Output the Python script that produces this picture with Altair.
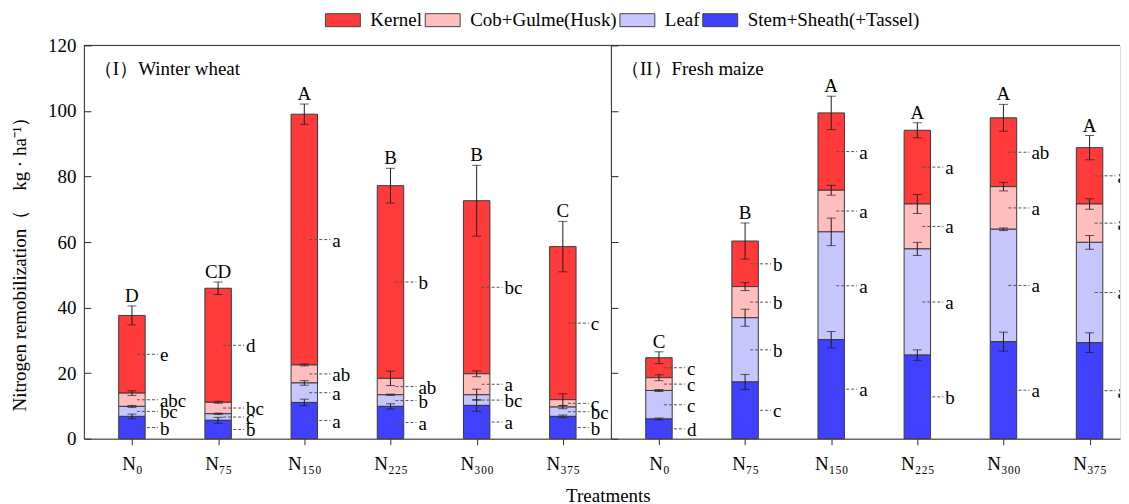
import json
import altair as alt
import pandas as pd

FONT = "Liberation Serif"

# ---------------- data ----------------
treatments = ["N₀", "N₇₅", "N₁₅₀", "N₂₂₅", "N₃₀₀", "N₃₇₅"]
parts = ["Kernel", "Cob+Gulme(Husk)", "Leaf", "Stem+Sheath(+Tassel)"]
part_colors = ["#FF3A3A", "#FFBEBE", "#C6C6FD", "#4040FF"]
stack_rank = [3, 2, 1, 0]          # Stem at the bottom, Kernel on top
panel_titles = ["（I）Winter wheat", "（II）Fresh maize"]
y_ticks = [0, 20, 40, 60, 80, 100, 120]

# (I) Winter wheat
wheat_stem = [6.8, 5.6, 11.05, 9.85, 10.15, 6.8]
wheat_leaf = [3.05, 2.0, 5.95, 3.55, 3.25, 2.85]
wheat_husk = [4.05, 3.5, 5.5, 5.0, 6.4, 2.25]
wheat_kernel = [23.7, 34.8, 76.5, 58.8, 52.8, 46.7]
wheat_stem_err = [0.7, 0.9, 1.0, 0.8, 1.8, 0.4]
wheat_leaf_err = [0.3, 0.2, 0.7, 0.2, 1.7, 0.5]
wheat_husk_err = [0.7, 0.3, 0.3, 2.2, 0.9, 1.8]
wheat_kernel_err = [2.9, 1.9, 3.1, 5.3, 10.8, 7.7]
wheat_stem_sig = ["b", "b", "a", "a", "a", "b"]
wheat_leaf_sig = ["bc", "c", "a", "b", "bc", "bc"]
wheat_husk_sig = ["abc", "bc", "ab", "ab", "a", "c"]
wheat_kernel_sig = ["e", "d", "a", "b", "bc", "c"]
wheat_total_sig = ["D", "CD", "A", "B", "B", "C"]

# (II) Fresh maize
maize_stem = [6.0, 17.3, 30.2, 25.5, 29.6, 29.3]
maize_leaf = [8.7, 19.6, 32.9, 32.4, 34.3, 30.6]
maize_husk = [3.9, 9.5, 12.7, 13.7, 13.0, 11.7]
maize_kernel = [6.1, 13.9, 23.6, 22.5, 21.0, 17.2]
maize_stem_err = [0.3, 2.3, 2.5, 1.6, 2.9, 3.0]
maize_leaf_err = [0.3, 2.6, 4.2, 2.0, 0.4, 2.1]
maize_husk_err = [0.9, 1.2, 1.5, 2.9, 1.3, 1.6]
maize_kernel_err = [1.8, 5.5, 5.1, 2.3, 4.1, 3.7]
maize_stem_sig = ["d", "c", "a", "b", "a", "a"]
maize_leaf_sig = ["c", "b", "a", "a", "a", "a"]
maize_husk_sig = ["c", "b", "a", "a", "a", "a"]
maize_kernel_sig = ["c", "b", "a", "a", "ab", "a"]
maize_total_sig = ["C", "B", "A", "A", "A", "A"]


def build_df(kernel, husk, leaf, stem, kerr, herr, lerr, serr, ksig, hsig, lsig, ssig, tsig):
    rows = []
    series = [
        (kernel, kerr, ksig),
        (husk, herr, hsig),
        (leaf, lerr, lsig),
        (stem, serr, ssig),
    ]
    for i, t in enumerate(treatments):
        for j, p in enumerate(parts):
            vals, errs, sigs = series[j]
            rows.append(dict(idx=i, treat=t, part=p, rank=stack_rank[j], value=vals[i],
                             err=errs[i], sig=sigs[i], tsig=tsig[i]))
    return pd.DataFrame(rows)


wheat_df = build_df(wheat_kernel, wheat_husk, wheat_leaf, wheat_stem,
                    wheat_kernel_err, wheat_husk_err, wheat_leaf_err, wheat_stem_err,
                    wheat_kernel_sig, wheat_husk_sig, wheat_leaf_sig, wheat_stem_sig,
                    wheat_total_sig)
maize_df = build_df(maize_kernel, maize_husk, maize_leaf, maize_stem,
                    maize_kernel_err, maize_husk_err, maize_leaf_err, maize_stem_err,
                    maize_kernel_sig, maize_husk_sig, maize_leaf_sig, maize_stem_sig,
                    maize_total_sig)

# ---------------- chart ----------------
H = 394
STEP = 88.0
W_LEFT = 528
W_RIGHT = 510          # the reference's right panel runs past the picture's edge
INK = "#2b2b2b"
BAR_W = 26.5

y_scale = alt.Scale(domain=[0, 120], nice=False, zero=True)
label_expr = json.dumps(treatments, ensure_ascii=False) + "[datum.value]"

legend = alt.Legend(
    orient="none", direction="horizontal", title=None,
    legendX=250, legendY=-35, padding=0,
    symbolType="M-2.69,-1H2.69V1H-2.69Z", symbolSize=169,
    symbolStrokeColor="#444444", symbolStrokeWidth=1, symbolOpacity=1,
    labelFont=FONT, labelFontSize=19, labelColor="black", labelLimit=0,
    labelOffset=18, columnPadding=1,
)


def panel(df, title, width, left):
    x_axis = alt.Axis(
        title="Treatments" if left else None,
        titleFont=FONT, titleFontSize=19, titleFontWeight="normal", titleColor="black",
        titleX=525, titleY=63, titleBaseline="alphabetic", titleAlign="center",
        values=list(range(len(treatments))), labelExpr=label_expr,
        labelFont=FONT, labelFontSize=19, labelColor="black", labelAngle=0,
        labelPadding=10, tickSize=6, tickColor=INK, domainColor=INK, grid=False,
    )
    if left:
        y_axis = alt.Axis(
            values=y_ticks, title="Nitrogen remobilization（　kg · ha⁻¹）",
            titleFont=FONT, titleFontSize=19, titleFontWeight="normal", titleColor="black",
            titleX=-54, titleY=214,
            labelFont=FONT, labelFontSize=19, labelColor="black", labelPadding=15,
            tickSize={"expr": "-7"}, tickColor=INK, domainColor=INK, grid=False,
        )
    else:
        y_axis = alt.Axis(
            values=y_ticks, title=None, labels=False,
            tickSize={"expr": "-7"}, tickColor=INK, domainColor=INK, grid=False,
        )

    x_max = -0.5 + width / STEP
    x_scale = alt.Scale(domain=[-0.5, x_max], nice=False, zero=False)

    def X(field="idx"):
        return alt.X(field, type="quantitative", scale=x_scale, axis=x_axis)

    def Y(field):
        return alt.Y(field, type="quantitative", scale=y_scale, axis=y_axis)

    base = (
        alt.Chart(df)
        .transform_stack(stack="value", as_=["y0", "y1"], groupby=["treat"],
                         sort=[alt.SortField("rank", order="ascending")])
        .transform_calculate(
            mid="(datum.y0 + datum.y1) / 2",
            lo="datum.y1 - datum.err",
            hi="datum.y1 + datum.err",
        )
    )

    bars = base.mark_bar(stroke="#3a3a3a", strokeWidth=1, width=BAR_W).encode(
        x=X(), y=Y("y1"), y2="y0:Q",
        color=alt.Color("part:N", scale=alt.Scale(domain=parts, range=part_colors), legend=legend),
    )
    err_line = base.mark_rule(color="#1e1e1e", strokeWidth=1).encode(x=X(), y=Y("lo"), y2="hi:Q")
    cap_lo = base.mark_tick(color="#1e1e1e", thickness=1, size=9, orient="horizontal").encode(
        x=X(), y=Y("lo"))
    cap_hi = base.mark_tick(color="#1e1e1e", thickness=1, size=9, orient="horizontal").encode(
        x=X(), y=Y("hi"))
    leaders = base.mark_rule(color="#555555", strokeWidth=1, strokeDash=[3, 2],
                             xOffset=5, x2Offset=26, clip=not left).encode(
        x=X(), x2=alt.X2("idx"), y=Y("mid"))
    seg_txt = base.mark_text(align="left", baseline="middle", dx=28, dy=1, font=FONT,
                             fontSize=19, color="black", clip=not left).encode(
        x=X(), y=Y("mid"), text="sig:N")
    top_txt = base.transform_filter("datum.part == 'Kernel'").mark_text(
        baseline="alphabetic", dy=-4, font=FONT, fontSize=19, color="black").encode(
        x=X(), y=Y("hi"), text="tsig:N")
    ptitle = alt.Chart(pd.DataFrame({"t": [title]})).mark_text(
        align="left", baseline="alphabetic", font=FONT, fontSize=19, color="black").encode(
        x=alt.value(10), y=alt.value(30), text="t:N")
    top_border = alt.Chart(pd.DataFrame({"t": [0]})).mark_rule(color=INK, strokeWidth=1).encode(
        y=alt.value(0))

    return alt.layer(bars, err_line, cap_lo, cap_hi, leaders, seg_txt, top_txt, ptitle,
                     top_border).properties(width=width, height=H)


left_panel = panel(wheat_df, panel_titles[0], W_LEFT, True)
right_panel = panel(maize_df, panel_titles[1], W_RIGHT, False)

chart = (
    alt.hconcat(left_panel, right_panel, spacing=0, bounds="flush")
    .resolve_scale(x="independent", color="shared")
    .configure_view(stroke="transparent")
    .configure(font=FONT)
    .properties(padding={"left": 2, "top": 2, "right": 0, "bottom": 2}, background="white")
)

chart.save("out.html", embed_options={"renderer": "svg", "actions": False})
